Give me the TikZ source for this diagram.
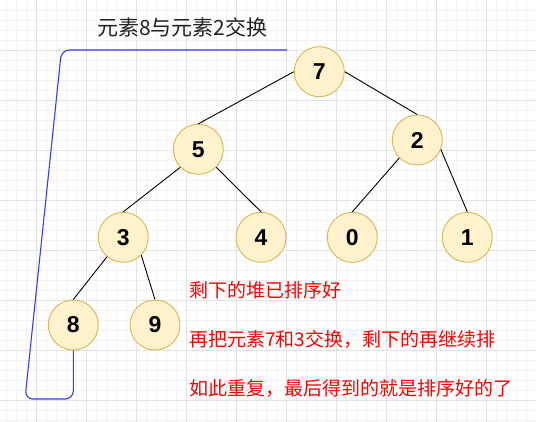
\documentclass[tikz,border=0pt]{standalone}
\usepackage{fontspec}
\setmainfont{Liberation Sans}
\newfontfamily\cjk{Noto Sans CJK SC}
\definecolor{nodefill}{HTML}{FFF2CC}
\definecolor{nodedraw}{HTML}{D6B656}
\definecolor{gridminor}{HTML}{F2F2F2}
\definecolor{gridmajor}{HTML}{E2E2E2}
\definecolor{swapblue}{HTML}{3838FF}
\definecolor{titlegray}{HTML}{222222}
\begin{document}
\begin{tikzpicture}[x=1pt,y=-1pt,
  heapnode/.style={circle,minimum size=50pt,inner sep=0pt,fill=nodefill,draw=nodedraw,line width=0.9pt,
    font=\bfseries\fontsize{23}{23}\selectfont},
  edge/.style={draw=black,line width=0.9pt},
  note/.style={anchor=west,inner sep=0pt,text=red,font=\cjk\fontsize{19}{19}\selectfont},
  swapline/.style={draw=swapblue,line width=1.1pt,rounded corners=8pt}]
\useasboundingbox (0,0) rectangle (536,422);
\fill[white] (0,0) rectangle (536,422);
% grid
\foreach \i in {0,...,53} {\draw[gridminor,line width=0.6pt] (6.7+10*\i,0) -- (6.7+10*\i,422);}
\foreach \i in {1,...,42} {\draw[gridminor,line width=0.6pt] (0,10*\i) -- (536,10*\i);}
\foreach \i in {0,...,10} {\draw[gridmajor,line width=0.7pt] (36.7+50*\i,0) -- (36.7+50*\i,422);}
\foreach \i in {1,...,8} {\draw[gridmajor,line width=0.7pt] (0,50*\i) -- (536,50*\i);}
% nodes
\node[heapnode] (n7) at (319.3,71.7) {7};
\node[heapnode] (n5) at (198.3,149.3) {5};
\node[heapnode] (n2) at (417.3,140) {2};
\node[heapnode] (n3) at (123.3,237.3) {3};
\node[heapnode] (n4) at (261,237.3) {4};
\node[heapnode] (n0) at (352.3,237.3) {0};
\node[heapnode] (n1) at (467.3,237.3) {1};
\node[heapnode] (n8) at (73.3,325) {8};
\node[heapnode] (n9) at (155,325) {9};
% edges
\draw[edge] (n7.west) -- (n5.north);
\draw[edge] (n7.east) -- (n2.north);
\draw[edge] (n5.south west) -- (n3.north);
\draw[edge] (n5.south east) -- (n4.north);
\draw[edge] (n2.south west) -- (n0.north);
\draw[edge] (n2.-22) -- (n1.north);
\draw[edge] (n3.-130) -- (n8.north);
\draw[edge] (n3.south east) -- (n9.north);
% swap connector
\coordinate (swapend) at (287,50);
\draw[swapline] (n8.south) -- (73.3,399) -- (25,399) -- (61.5,50) -- (swapend);
% texts
\node[anchor=west,inner sep=0pt,text=titlegray,font=\cjk\fontsize{21}{21}\selectfont] (title) at (97,27) {元素8与元素2交换};
\node[note] (t1) at (189,290) {剩下的堆已排序好};
\node[note] (t2) at (189,339.3) {再把元素7和3交换，剩下的再继续排};
\node[note] (t3) at (189,388.3) {如此重复，最后得到的就是排序好的了};
\end{tikzpicture}
\end{document}
